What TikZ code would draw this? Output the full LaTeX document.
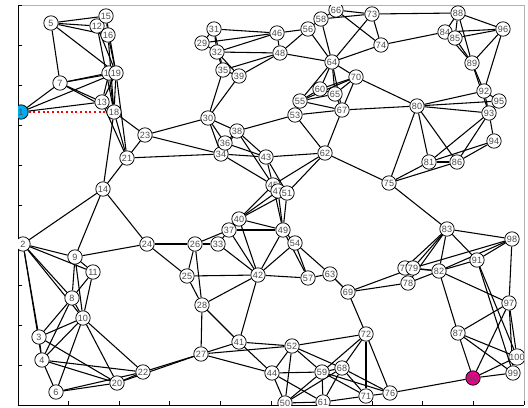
\documentclass[tikz,border=0pt]{standalone}
\usepackage{fontspec}
\setmainfont{Liberation Sans}
\pgfdeclarelayer{bg}
\pgfsetlayers{bg,main}
\begin{document}
\begin{tikzpicture}[x=0.75pt,y=-0.75pt,
  vtx/.style={circle,draw=black,line width=0.55pt,fill=white,inner sep=0pt,minimum size=10.8pt,
    font=\fontsize{6.8}{6.8}\selectfont,text=black!70},
  edge/.style={draw=black,line width=0.8pt},
  path/.style={draw=red,line width=1.5pt,dotted}]
\useasboundingbox (0,0) rectangle (528,407);
% axes
\draw[black!30,line width=0.5pt] (18,5) -- (524,5) -- (524,405);
\draw[black,line width=0.6pt] (18,5) -- (18,405) -- (524,405);
\foreach \k in {0,...,10} {
  \draw[black,line width=0.5pt] (18,5+40*\k) -- (22,5+40*\k);
  \draw[black,line width=0.5pt] (18+50.6*\k,405) -- (18+50.6*\k,401);
}
\begin{scope}
\clip (18,5) rectangle (524,405);
\foreach \i/\x/\y in {
2/23/244,3/39/337,4/42/360,5/51/23,6/56/392,7/60/83,8/72/298,9/75/257,10/83/318,
11/93/272,12/97/26,13/102/102,14/103/189,15/106/16,16/108/35,17/109/73,18/114/112,19/116/73,
20/117/383,21/127/158,22/143/372,23/145/135,24/147/244,25/187/276,26/195/244,27/201/354,
28/202/305,29/202/43,30/208/118,31/214/29,32/217/52,33/218/244,34/221/154,35/223/70,
36/225/143,37/229/230,38/237/131,39/239/76,40/239/219,41/239/342,42/258/275,43/266/157,
44/272/373,45/273/185,46/277/33,47/278/191,48/280/53,49/283/230,50/285/403,51/287/193,
52/292/346,53/295/115,54/295/243,55/300/101,56/308/29,57/308/278,58/321/19,59/322/372,
60/320/89,61/323/402,62/325/153,63/330/274,64/332/62,65/335/94,66/336/10,67/342/110,
68/342/368,69/348/292,70/356/77,71/366/396,72/366/334,73/372/14,74/381/45,75/389/183,
76/390/393,77/405/268,78/408/283,79/413/268,80/417/106,81/429/162,82/439/271,83/447/229,
84/445/32,85/455/38,86/457/162,87/458/333,88/458/13,89/472/63,91/477/260,92/484/91,
93/489/113,94/494/141,95/499/101,96/503/29,97/509/303,98/512/239,99/513/373,100/517/357}
  \node[vtx] (n\i) at (\x,\y) {\i};
\node[vtx,fill=cyan] (n1) at (21,112) {1};
\node[vtx,fill=magenta] (n90) at (473,378) {90};
\end{scope}
\begin{pgfonlayer}{bg}
\foreach \a/\b in {
5/15,5/12,5/16,5/7,5/19,12/15,12/16,15/16,12/19,16/19,15/19,16/18,12/18,
7/17,7/19,7/13,7/1,7/18,1/13,1/19,13/19,13/18,17/18,19/18,17/13,
18/21,19/21,13/21,18/23,23/30,23/34,21/34,21/23,14/18,14/2,14/9,14/24,14/21,
2/9,2/11,2/8,2/10,2/3,2/4,9/8,9/10,9/11,9/24,11/8,11/10,8/10,8/3,8/4,
10/3,10/4,10/6,10/20,10/22,3/4,3/20,4/6,4/20,4/22,6/20,6/22,20/22,22/27,20/27,
24/26,24/25,26/33,26/37,26/25,26/28,25/28,25/42,28/42,28/27,28/41,27/41,27/44,27/52,
41/42,41/44,41/52,33/37,33/42,37/40,37/49,37/42,40/45,40/51,40/47,40/49,40/42,
30/36,30/38,30/34,34/36,34/38,34/43,34/45,36/38,36/43,38/43,38/45,38/53,
43/45,43/51,43/62,45/62,51/62,45/49,51/49,47/49,45/51,
49/54,49/42,49/57,54/42,54/57,54/63,57/63,42/57,63/69,69/78,69/79,69/72,
31/32,29/32,29/31,31/35,32/35,32/39,35/39,31/46,29/46,32/46,32/48,35/48,39/48,35/30,39/30,
46/56,46/48,48/56,48/64,56/58,56/64,58/66,58/73,66/73,66/74,58/64,64/73,64/74,73/74,74/84,73/88,
64/70,64/55,64/60,64/65,64/67,70/55,70/60,70/65,70/67,70/80,55/60,55/65,55/53,55/67,
60/65,65/67,53/67,67/80,53/62,67/62,
88/84,88/85,88/96,88/89,84/85,84/96,85/96,84/89,85/89,89/96,89/92,89/93,96/92,92/95,
92/93,92/80,95/93,80/93,80/95,93/94,80/81,80/86,80/75,81/86,81/94,86/94,81/93,86/93,
81/75,86/75,75/83,62/75,
83/98,83/91,83/82,83/79,83/77,83/78,98/91,98/82,98/79,98/97,91/82,91/100,91/99,
82/78,82/79,82/77,82/97,82/87,97/87,97/90,97/100,97/99,87/90,87/99,87/100,90/99,90/100,
90/76,77/78,
52/72,72/68,72/59,72/71,72/76,52/44,52/59,52/50,52/68,44/59,44/50,44/61,59/61,59/50,
59/68,59/71,59/76,68/76,68/71,68/61,68/50,61/71,61/50,71/76}
  \draw[edge] (n\a) -- (n\b);
\end{pgfonlayer}
\draw[path] (n1) -- (n18);
\end{tikzpicture}
\end{document}
